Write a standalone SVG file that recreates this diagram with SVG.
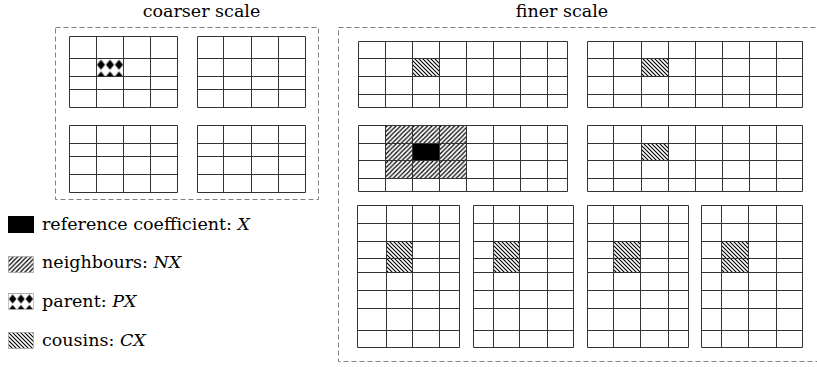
<svg xmlns="http://www.w3.org/2000/svg" width="817" height="367" viewBox="0 0 817 367">
<style>
.t{font-family:"DejaVu Serif","Liberation Serif",serif;font-size:17.5px;fill:#000}
.i{font-style:italic}
.g{fill:none;stroke:#333;stroke-width:1}
.box{fill:none;stroke:#808080;stroke-width:1;stroke-dasharray:5 3}
.nb{fill:url(#nb)}
.cs{fill:url(#cs)}
.pa{fill:url(#pa)}
.ic{stroke:#999;stroke-width:0.6}
</style>
<defs>
<pattern id="nb" patternUnits="userSpaceOnUse" width="4.5" height="4.5">
<path d="M-1 5.5L5.5 -1M-1 1L1 -1M3.5 5.5L5.5 3.5" stroke="#000" stroke-width="1.2"/>
</pattern>
<pattern id="cs" patternUnits="userSpaceOnUse" width="4" height="4">
<path d="M-1 -1L5 5M-1 3L1 5M3 -1L5 1" stroke="#000" stroke-width="1.1"/>
</pattern>
<pattern id="pa" patternUnits="objectBoundingBox" patternContentUnits="objectBoundingBox" width="0.3333" height="1">
<path d="M0.1667 0.07L0.3167 0.35L0.1667 0.63L0.0167 0.35Z M0.1667 0.72L0.3167 1L0.1667 1.28L0.0167 1Z" fill="#000"/>
</pattern>
</defs>

<g id="titles">
<text class="t" x="201.5" y="17" text-anchor="middle">coarser scale</text>
<text class="t" x="562" y="17" text-anchor="middle">finer scale</text>
</g>

<g id="frames">
<rect class="box" x="55.5" y="27.5" width="263" height="172"/>
<rect class="box" x="338.5" y="27.5" width="490" height="334"/>
</g>

<g id="coarse-1">
<rect class="pa" x="96.5" y="58.5" width="27" height="18"/>
<path class="g" d="M69.5 36.5H177.5V107.5H69.5Z M96.5 36.5V107.5 M123.5 36.5V107.5 M150.5 36.5V107.5 M69.5 58.5H177.5 M69.5 76.5H177.5 M69.5 89.5H177.5"/>
</g>
<g id="coarse-2">
<path class="g" d="M197.5 36.5H305.5V107.5H197.5Z M223.5 36.5V107.5 M251.5 36.5V107.5 M278.5 36.5V107.5 M197.5 58.5H305.5 M197.5 76.5H305.5 M197.5 89.5H305.5"/>
</g>
<g id="coarse-3">
<path class="g" d="M69.5 125.5H177.5V192.5H69.5Z M96.5 125.5V192.5 M123.5 125.5V192.5 M150.5 125.5V192.5 M69.5 143.5H177.5 M69.5 156.5H177.5 M69.5 174.5H177.5"/>
</g>
<g id="coarse-4">
<path class="g" d="M197.5 125.5H305.5V192.5H197.5Z M223.5 125.5V192.5 M251.5 125.5V192.5 M278.5 125.5V192.5 M197.5 143.5H305.5 M197.5 156.5H305.5 M197.5 174.5H305.5"/>
</g>

<g id="fine-a">
<rect class="cs" x="412.5" y="58.5" width="27" height="18"/>
<path class="g" d="M358.5 41.5H567.5V107.5H358.5Z M385.5 41.5V107.5 M412.5 41.5V107.5 M439.5 41.5V107.5 M466.5 41.5V107.5 M493.5 41.5V107.5 M520.5 41.5V107.5 M547.5 41.5V107.5 M358.5 58.5H567.5 M358.5 76.5H567.5 M358.5 94.5H567.5"/>
</g>
<g id="fine-b">
<rect class="cs" x="641.5" y="58.5" width="27" height="18"/>
<path class="g" d="M587.5 41.5H802.5V107.5H587.5Z M613.5 41.5V107.5 M641.5 41.5V107.5 M668.5 41.5V107.5 M695.5 41.5V107.5 M722.5 41.5V107.5 M749.5 41.5V107.5 M776.5 41.5V107.5 M587.5 58.5H802.5 M587.5 76.5H802.5 M587.5 94.5H802.5"/>
</g>
<g id="fine-c">
<rect class="nb" x="385.5" y="125.5" width="81" height="53"/>
<rect x="412.5" y="143.5" width="27" height="17" fill="#000"/>
<path class="g" d="M358.5 125.5H567.5V191.5H358.5Z M385.5 125.5V191.5 M412.5 125.5V191.5 M439.5 125.5V191.5 M466.5 125.5V191.5 M493.5 125.5V191.5 M520.5 125.5V191.5 M547.5 125.5V191.5 M358.5 143.5H567.5 M358.5 160.5H567.5 M358.5 178.5H567.5"/>
</g>
<g id="fine-d">
<rect class="cs" x="641.5" y="143.5" width="27" height="17"/>
<path class="g" d="M587.5 125.5H802.5V191.5H587.5Z M613.5 125.5V191.5 M641.5 125.5V191.5 M668.5 125.5V191.5 M695.5 125.5V191.5 M722.5 125.5V191.5 M749.5 125.5V191.5 M776.5 125.5V191.5 M587.5 143.5H802.5 M587.5 160.5H802.5 M587.5 178.5H802.5"/>
</g>
<g id="fine-e">
<rect class="cs" x="386.5" y="241.5" width="26" height="31"/>
<path class="g" d="M357.5 205.5H459.5V347.5H357.5Z M386.5 205.5V347.5 M412.5 205.5V347.5 M439.5 205.5V347.5 M357.5 223.5H459.5 M357.5 241.5H459.5 M357.5 258.5H459.5 M357.5 272.5H459.5 M357.5 290.5H459.5 M357.5 308.5H459.5 M357.5 330.5H459.5"/>
</g>
<g id="fine-f">
<rect class="cs" x="493.5" y="241.5" width="26" height="31"/>
<path class="g" d="M473.5 205.5H573.5V347.5H473.5Z M493.5 205.5V347.5 M519.5 205.5V347.5 M547.5 205.5V347.5 M473.5 223.5H573.5 M473.5 241.5H573.5 M473.5 258.5H573.5 M473.5 272.5H573.5 M473.5 290.5H573.5 M473.5 308.5H573.5 M473.5 330.5H573.5"/>
</g>
<g id="fine-g">
<rect class="cs" x="613.5" y="241.5" width="27" height="31"/>
<path class="g" d="M587.5 205.5H688.5V347.5H587.5Z M613.5 205.5V347.5 M640.5 205.5V347.5 M668.5 205.5V347.5 M587.5 223.5H688.5 M587.5 241.5H688.5 M587.5 258.5H688.5 M587.5 272.5H688.5 M587.5 290.5H688.5 M587.5 308.5H688.5 M587.5 330.5H688.5"/>
</g>
<g id="fine-h">
<rect class="cs" x="721.5" y="241.5" width="27" height="31"/>
<path class="g" d="M701.5 205.5H802.5V347.5H701.5Z M721.5 205.5V347.5 M748.5 205.5V347.5 M776.5 205.5V347.5 M701.5 223.5H802.5 M701.5 241.5H802.5 M701.5 258.5H802.5 M701.5 272.5H802.5 M701.5 290.5H802.5 M701.5 308.5H802.5 M701.5 330.5H802.5"/>
</g>

<g id="legend-reference">
<rect x="8" y="216" width="26" height="17" fill="#000"/>
<text class="t" x="42" y="230">reference coefficient: <tspan class="i">X</tspan></text>
</g>
<g id="legend-neighbours">
<rect class="nb ic" x="8.5" y="256.5" width="25" height="16"/>
<text class="t" x="42" y="268">neighbours: <tspan class="i">NX</tspan></text>
</g>
<g id="legend-parent">
<rect class="pa ic" x="8.5" y="293.5" width="25" height="16"/>
<text class="t" x="42" y="307">parent: <tspan class="i">PX</tspan></text>
</g>
<g id="legend-cousins">
<rect class="cs ic" x="8.5" y="332.5" width="25" height="16"/>
<text class="t" x="42" y="346">cousins: <tspan class="i">CX</tspan></text>
</g>
</svg>
